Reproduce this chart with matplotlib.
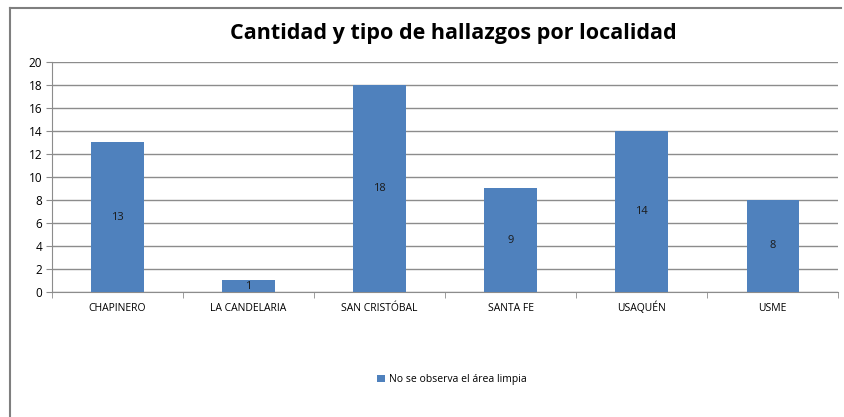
import numpy as np
import matplotlib
matplotlib.use("Agg")
import matplotlib.pyplot as plt
from matplotlib.lines import Line2D

localidades = ["CHAPINERO", "LA CANDELARIA", "SAN CRISTÓBAL", "SANTA FE", "USAQUÉN", "USME"]
hallazgos = [13, 1, 18, 9, 14, 8]
serie = "No se observa el área limpia"
titulo = "Cantidad y tipo de hallazgos por localidad"

plt.rcParams['font.family'] = ['Open Sans', 'DejaVu Sans']

fig = plt.figure(figsize=(8.45, 4.17), dpi=100)
ax = fig.add_axes([0.0615, 0.2998, 0.9305, 0.5515])

x = np.arange(len(localidades))
color = '#4F81BD'
bars = ax.bar(x, hallazgos, width=0.4, color=color, zorder=3, label=serie)

for rect, val in zip(bars, hallazgos):
    ax.text(rect.get_x() + rect.get_width() / 2, val / 2, str(val),
            ha='center', va='center', fontsize=8, color='#1a1a1a', zorder=4)

ax.set_xlim(-0.5, len(localidades) - 0.5)
ax.set_ylim(0, 20)
ax.set_yticks(range(0, 21, 2))
ax.yaxis.grid(True, color='#8c8c8c', linewidth=1, zorder=0)
ax.set_axisbelow(True)

ax.set_xticks(x)
ax.set_xticklabels(localidades, fontsize=7.5)
for lbl in ax.get_xticklabels():
    lbl.set_verticalalignment('baseline')
ax.tick_params(axis='x', length=0, pad=14)
ax.set_xticks(np.arange(-0.5, len(localidades), 1), minor=True)
ax.tick_params(axis='x', which='minor', length=4, color='#8c8c8c', direction='out')
ax.tick_params(axis='y', labelsize=8.5, length=4, color='#8c8c8c', pad=3)

for s in ['top', 'right']:
    ax.spines[s].set_visible(False)
ax.spines['left'].set_color('#8c8c8c')
ax.spines['bottom'].set_color('#8c8c8c')

fig.text(0.537, 0.92, titulo, ha='center', va='center', fontsize=15.5, fontweight='bold')

fig.legend(loc='center', bbox_to_anchor=(0.535, 0.09), frameon=False, fontsize=7.5,
           handlelength=0.7, handleheight=0.7, handletextpad=0.4)

# marco exterior
fig.add_artist(Line2D([0.012, 0.012], [0.0, 0.981], color='#7f7f7f', linewidth=1.5, transform=fig.transFigure))
fig.add_artist(Line2D([0.012, 0.995], [0.981, 0.981], color='#7f7f7f', linewidth=1.5, transform=fig.transFigure))

fig.savefig("out.png", dpi=100)
